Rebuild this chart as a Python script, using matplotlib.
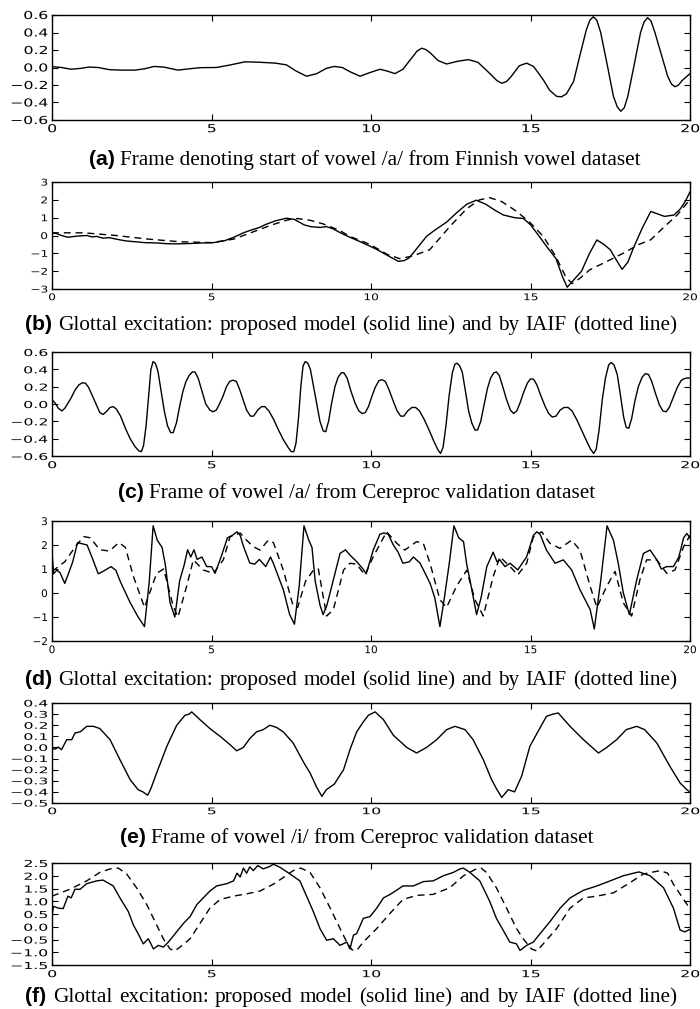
import numpy as np
import matplotlib
matplotlib.use('Agg')
import matplotlib.pyplot as plt
from matplotlib import patheffects
from matplotlib.transforms import Affine2D

# --- (a) frame, Finnish vowel /a/ ---
a_t = [0, 0.3, 0.6, 0.9, 1.15, 1.45, 1.8, 2.2, 2.6, 2.9, 3.2, 3.5, 3.95, 4.3, 4.65, 5.15,
       5.6, 6.05, 6.5, 7.0, 7.35, 7.65, 7.98, 8.3, 8.6, 8.85, 9.1, 9.35, 9.66, 9.95, 10.28,
       10.5, 10.75, 11.0, 11.3, 11.45, 11.59, 11.72, 11.85, 12.1, 12.37, 12.7, 13.05, 13.35,
       13.7, 13.95, 14.1, 14.25, 14.4, 14.65, 14.88, 15.1, 15.4, 15.6, 15.82, 15.97, 16.13,
       16.35, 16.55, 16.75, 16.86, 16.97, 17.08, 17.2, 17.4, 17.6, 17.72, 17.83, 17.94,
       18.05, 18.25, 18.45, 18.56, 18.67, 18.78, 18.9, 19.1, 19.3, 19.42, 19.53, 19.64,
       19.75, 20.0]
a_y = [0.01, 0.0, -0.02, -0.01, 0.005, 0.0, -0.025, -0.03, -0.03, -0.015, 0.012, 0.005, -0.03,
       -0.015, -0.002, 0.0, 0.03, 0.065, 0.06, 0.05, 0.03, -0.04, -0.1, -0.07, -0.01, 0.012,
       0.0, -0.05, -0.1, -0.06, -0.02, -0.04, -0.07, -0.02, 0.12, 0.19, 0.22, 0.205, 0.17,
       0.08, 0.04, 0.07, 0.09, 0.06, -0.06, -0.15, -0.18, -0.16, -0.1, 0.02, 0.05, 0.01,
       -0.14, -0.26, -0.33, -0.335, -0.3, -0.16, 0.14, 0.43, 0.54, 0.58, 0.54, 0.4, 0.04,
       -0.33, -0.45, -0.5, -0.46, -0.33, 0.03, 0.4, 0.52, 0.57, 0.53, 0.4, 0.15, -0.1, -0.19,
       -0.22, -0.2, -0.15, -0.07]

# --- (b) glottal excitation, proposed model and IAIF ---
b_model_t = [0.0, 0.15, 0.3, 0.5, 0.7, 0.9, 1.1, 1.25, 1.4, 1.6, 1.8, 2.0, 2.3, 2.6, 2.9, 3.3,
             3.6, 3.9, 4.3, 4.7, 5.06, 5.4, 5.7, 6.0, 6.2, 6.5, 6.7, 7.0, 7.35, 7.6, 7.9, 8.1,
             8.4, 8.6, 8.8, 9.1, 9.34, 9.6, 9.97, 10.2, 10.4, 10.6, 10.86, 11.05, 11.2, 11.45,
             11.74, 12.0, 12.37, 12.7, 13.0, 13.3, 13.6, 13.9, 14.15, 14.5, 14.78, 15.0, 15.2,
             15.5, 15.8, 16.0, 16.15, 16.35, 16.6, 16.85, 17.08, 17.3, 17.5, 17.7, 17.87, 18.05,
             18.25, 18.5, 18.77, 19.0, 19.2, 19.5, 19.7, 19.85, 20.0]
b_model_y = [0.15, 0.1, 0.0, -0.1, -0.05, -0.02, 0.0, -0.08, -0.05, -0.15, -0.12, -0.2, -0.3,
             -0.35, -0.4, -0.42, -0.46, -0.47, -0.45, -0.42, -0.4, -0.3, -0.1, 0.15, 0.28, 0.45,
             0.62, 0.82, 0.97, 0.9, 0.6, 0.5, 0.45, 0.5, 0.38, 0.1, -0.1, -0.3, -0.6, -0.8, -1.0,
             -1.2, -1.45, -1.4, -1.25, -0.7, -0.05, 0.3, 0.75, 1.3, 1.75, 1.98, 1.75, 1.4, 1.15,
             1.0, 0.95, 0.6, 0.13, -0.6, -1.3, -2.3, -2.9, -2.5, -2.0, -1.0, -0.25, -0.5, -0.8,
             -1.4, -1.9, -1.5, -0.6, 0.4, 1.35, 1.2, 1.07, 1.15, 1.5, 1.9, 2.45]
b_iaif_t = [0.0, 1.0, 2.0, 3.0, 4.0, 5.0, 5.7, 6.3, 6.9, 7.4, 7.7, 8.1, 8.5, 9.0, 9.34, 9.97,
            10.5, 10.9, 11.3, 11.84, 12.47, 13.0, 13.4, 13.72, 14.1, 14.57, 15.0, 15.4, 15.8,
            16.1, 16.3, 16.55, 16.86, 17.4, 17.9, 18.4, 18.77, 19.2, 19.6, 19.9, 20.0]
b_iaif_y = [0.15, 0.15, 0.0, -0.2, -0.35, -0.4, -0.2, 0.2, 0.6, 0.88, 0.95, 0.85, 0.65, 0.3,
            -0.05, -0.5, -1.05, -1.3, -1.15, -0.8, 0.5, 1.5, 2.0, 2.12, 1.9, 1.35, 0.7, -0.05,
            -1.2, -2.3, -2.7, -2.4, -1.92, -1.45, -1.0, -0.5, -0.24, 0.5, 1.15, 1.8, 2.0]

# --- (c) frame of vowel /a/, Cereproc ---
c_t = [0.0, 0.1, 0.2, 0.31, 0.4, 0.5, 0.6, 0.72, 0.84, 0.95, 1.05, 1.15, 1.26, 1.38, 1.5, 1.6,
       1.7, 1.82, 1.92, 2.02, 2.15, 2.3, 2.45, 2.6, 2.72, 2.8, 2.87, 2.95, 3.03, 3.1, 3.17,
       3.24, 3.32, 3.42, 3.52, 3.62, 3.72, 3.8, 3.9, 4.0, 4.1, 4.2, 4.3, 4.4, 4.48, 4.58, 4.7,
       4.82, 4.95, 5.05, 5.15, 5.25, 5.36, 5.47, 5.57, 5.67, 5.78, 5.88, 5.99, 6.1, 6.22, 6.32,
       6.45, 6.57, 6.67, 6.8, 6.95, 7.1, 7.25, 7.4, 7.5, 7.58, 7.65, 7.73, 7.8, 7.87, 7.94,
       8.02, 8.1, 8.2, 8.3, 8.4, 8.5, 8.58, 8.67, 8.77, 8.87, 8.97, 9.07, 9.15, 9.25, 9.37,
       9.5, 9.62, 9.72, 9.82, 9.92, 10.02, 10.13, 10.25, 10.35, 10.45, 10.57, 10.7, 10.82,
       10.93, 11.03, 11.15, 11.28, 11.4, 11.52, 11.67, 11.82, 11.97, 12.1, 12.18, 12.26,
       12.35, 12.45, 12.55, 12.63, 12.7, 12.78, 12.86, 12.96, 13.06, 13.16, 13.26, 13.34,
       13.44, 13.55, 13.65, 13.75, 13.85, 13.93, 14.02, 14.13, 14.25, 14.37, 14.47, 14.57,
       14.67, 14.78, 14.9, 15.0, 15.1, 15.2, 15.32, 15.45, 15.57, 15.68, 15.8, 15.93, 16.05,
       16.18, 16.3, 16.45, 16.6, 16.75, 16.88, 16.98, 17.06, 17.15, 17.25, 17.35, 17.45,
       17.53, 17.62, 17.72, 17.82, 17.92, 18.0, 18.08, 18.17, 18.27, 18.38, 18.5, 18.6, 18.7,
       18.8, 18.92, 19.04, 19.15, 19.25, 19.35, 19.47, 19.6, 19.72, 19.8, 19.9, 20.0]
c_y = [0.05, 0.01, -0.05, -0.08, -0.05, 0.01, 0.07, 0.16, 0.22, 0.245, 0.24, 0.19, 0.1, 0.0,
       -0.1, -0.12, -0.09, -0.04, -0.03, -0.06, -0.14, -0.28, -0.4, -0.49, -0.54, -0.55, -0.48,
       -0.25, 0.1, 0.4, 0.49, 0.47, 0.38, 0.15, -0.08, -0.25, -0.33, -0.33, -0.22, -0.03, 0.14,
       0.26, 0.33, 0.37, 0.37, 0.3, 0.15, 0.0, -0.07, -0.09, -0.07, 0.0, 0.09, 0.2, 0.26,
       0.275, 0.26, 0.17, 0.05, -0.07, -0.14, -0.14, -0.07, -0.03, -0.03, -0.08, -0.18, -0.3,
       -0.41, -0.5, -0.55, -0.55, -0.45, -0.15, 0.2, 0.44, 0.49, 0.47, 0.4, 0.2, 0.0, -0.2,
       -0.31, -0.32, -0.2, 0.02, 0.2, 0.31, 0.36, 0.36, 0.3, 0.15, 0.01, -0.08, -0.11, -0.1,
       -0.03, 0.08, 0.19, 0.27, 0.28, 0.26, 0.16, 0.03, -0.08, -0.14, -0.14, -0.08, -0.04,
       -0.04, -0.08, -0.18, -0.3, -0.43, -0.53, -0.57, -0.5, -0.25, 0.1, 0.36, 0.46, 0.47,
       0.44, 0.37, 0.15, -0.08, -0.22, -0.3, -0.3, -0.2, 0.0, 0.18, 0.3, 0.36, 0.37, 0.33,
       0.2, 0.05, -0.07, -0.11, -0.08, 0.01, 0.13, 0.24, 0.29, 0.285, 0.22, 0.1, -0.02, -0.11,
       -0.15, -0.14, -0.07, -0.04, -0.04, -0.08, -0.18, -0.3, -0.42, -0.52, -0.57, -0.52,
       -0.3, 0.05, 0.3, 0.45, 0.48, 0.45, 0.34, 0.1, -0.15, -0.27, -0.28, -0.17, 0.03, 0.2,
       0.31, 0.35, 0.34, 0.26, 0.12, -0.01, -0.08, -0.09, -0.04, 0.07, 0.19, 0.27, 0.29, 0.3,
       0.3]

# --- (d) glottal excitation for (c) ---
d_model_t = [0.0, 0.05, 0.15, 0.25, 0.4, 0.5, 0.65, 0.8, 0.95, 1.1, 1.25, 1.45, 1.6, 1.85,
             2.0, 2.15, 2.45, 2.7, 2.9, 3.05, 3.17, 3.3, 3.45, 3.55, 3.7, 3.85, 4.0, 4.15, 4.25,
             4.35, 4.45, 4.55, 4.7, 4.85, 5.0, 5.11, 5.3, 5.5, 5.65, 5.8, 5.9, 6.0, 6.2, 6.35,
             6.5, 6.7, 6.85, 6.95, 7.25, 7.45, 7.6, 7.75, 7.9, 8.05, 8.15, 8.25, 8.4, 8.5, 8.62,
             8.82, 9.03, 9.2, 9.34, 9.55, 9.75, 9.85, 10.07, 10.28, 10.4, 10.54, 10.7, 10.85,
             11.0, 11.2, 11.33, 11.54, 11.85, 12.0, 12.16, 12.3, 12.45, 12.6, 12.75, 12.9, 13.0,
             13.1, 13.31, 13.45, 13.63, 13.83, 13.95, 14.04, 14.2, 14.36, 14.6, 14.88, 15.09,
             15.2, 15.3, 15.5, 15.77, 16.03, 16.29, 16.55, 16.87, 17.0, 17.2, 17.4, 17.6, 17.75,
             17.91, 18.1, 18.33, 18.54, 18.75, 18.96, 19.1, 19.27, 19.48, 19.65, 19.8, 19.9, 20.0]
d_model_y = [1.7, 0.8, 0.95, 0.85, 0.4, 0.75, 1.3, 2.1, 2.05, 2.0, 1.5, 0.8, 0.9, 1.1, 0.95,
             0.45, -0.4, -1.0, -1.4, 0.5, 2.8, 2.2, 1.9, 1.2, -0.4, -1.0, 0.5, 1.2, 1.8, 1.5,
             1.8, 1.4, 1.5, 1.1, 1.1, 0.82, 1.5, 2.3, 2.4, 2.55, 2.4, 1.95, 1.25, 1.2, 1.4, 1.1,
             1.5, 1.2, 0.14, -0.9, -1.3, 0.3, 2.8, 2.2, 1.9, 0.5, -0.5, -0.9, -0.5, 0.55, 1.65,
             1.8, 1.58, 1.31, 1.0, 0.8, 1.79, 2.45, 2.5, 2.45, 2.0, 1.7, 1.24, 1.3, 1.5, 1.24,
             0.41, -0.2, -1.4, -0.2, 1.2, 2.8, 2.3, 2.14, 1.2, 0.55, -0.9, -0.2, 1.1, 1.7, 1.3,
             1.38, 1.1, 1.24, 0.96, 1.51, 2.4, 2.55, 2.45, 1.79, 1.24, 1.38, 0.96, 0.14, -0.69,
             -1.5, 0.5, 2.8, 2.2, 1.24, 0.0, -0.9, 0.55, 1.65, 1.79, 1.38, 1.0, 1.1, 1.1, 1.5,
             2.3, 2.48, 2.3]
d_iaif_t = [0.0, 0.4, 0.77, 1.0, 1.2, 1.5, 1.8, 2.1, 2.3, 2.55, 2.9, 3.28, 3.5, 3.8, 3.95,
            4.22, 4.43, 4.74, 5.06, 5.37, 5.58, 5.9, 6.1, 6.31, 6.52, 6.78, 6.94, 7.25, 7.56,
            7.7, 7.95, 8.2, 8.35, 8.61, 8.82, 9.14, 9.34, 9.55, 9.81, 10.07, 10.49, 10.81, 11.06,
            11.43, 11.64, 11.85, 12.16, 12.37, 12.68, 13.0, 13.26, 13.52, 13.83, 14.04, 14.36,
            14.6, 14.88, 15.09, 15.35, 15.61, 15.92, 16.29, 16.55, 16.87, 17.08, 17.39, 17.65,
            17.91, 18.17, 18.43, 18.64, 18.96, 19.27, 19.53, 19.8, 20.0]
d_iaif_y = [0.9, 1.3, 2.0, 2.35, 2.3, 1.8, 1.75, 2.1, 1.9, 0.7, -0.6, 0.82, 1.0, -0.55, -1.0,
            0.28, 1.38, 0.96, 0.82, 1.38, 2.34, 2.5, 2.2, 1.93, 1.79, 2.2, 2.1, 0.96, -0.55,
            -0.6, 0.5, 0.96, 1.0, -0.96, -0.69, 0.96, 1.24, 1.2, 0.75, 1.51, 2.55, 2.07, 1.79,
            2.14, 2.07, 1.24, -0.28, -0.6, 0.28, 0.95, -0.28, -0.96, 0.68, 1.51, 1.1, 0.75, 1.24,
            2.34, 2.55, 2.07, 1.86, 2.2, 1.79, 0.28, -0.6, 0.28, 0.9, -0.41, -0.96, 0.55, 1.38,
            1.38, 0.82, 0.96, 1.93, 2.4]

# --- (e) frame of vowel /i/, Cereproc ---
e_t = [0.0, 0.1, 0.2, 0.3, 0.46, 0.62, 0.72, 0.88, 1.09, 1.3, 1.5, 1.82, 2.13, 2.45, 2.7, 2.85,
       3.0, 3.1, 3.28, 3.6, 3.91, 4.17, 4.3, 4.38, 4.64, 4.95, 5.27, 5.58, 5.79, 6.0, 6.2, 6.41,
       6.62, 6.83, 7.04, 7.25, 7.56, 7.88, 8.09, 8.3, 8.46, 8.6, 8.85, 9.14, 9.34, 9.55, 9.76,
       9.92, 10.13, 10.39, 10.7, 11.12, 11.43, 11.74, 12.06, 12.37, 12.63, 12.95, 13.2, 13.52,
       13.78, 13.95, 14.1, 14.3, 14.5, 14.72, 14.98, 15.19, 15.5, 15.7, 15.87, 16.24, 16.66,
       17.13, 17.39, 17.7, 18.0, 18.33, 18.58, 18.96, 19.37, 19.69, 19.9, 20.0]
e_y = [-0.01, -0.015, 0.003, -0.02, 0.07, 0.07, 0.13, 0.14, 0.19, 0.19, 0.17, 0.07, -0.11,
       -0.29, -0.38, -0.4, -0.43, -0.37, -0.23, 0.01, 0.2, 0.29, 0.3, 0.32, 0.25, 0.17, 0.1,
       0.025, -0.03, 0.0, 0.08, 0.14, 0.16, 0.2, 0.18, 0.14, 0.04, -0.13, -0.23, -0.36, -0.44,
       -0.38, -0.33, -0.2, -0.02, 0.14, 0.23, 0.29, 0.32, 0.25, 0.11, 0.0, -0.05, 0.0, 0.07,
       0.16, 0.19, 0.16, 0.07, -0.11, -0.29, -0.38, -0.45, -0.38, -0.4, -0.26, 0.01, 0.12,
       0.28, 0.3, 0.31, 0.19, 0.07, -0.05, 0.0, 0.07, 0.16, 0.19, 0.16, 0.04, -0.17, -0.32,
       -0.38, -0.4]

# --- (f) glottal excitation for (e) ---
f_model_t = [0.0, 0.05, 0.2, 0.35, 0.5, 0.6, 0.72, 0.88, 1.09, 1.4, 1.6, 1.92, 2.13, 2.39,
             2.55, 2.7, 2.86, 3.02, 3.18, 3.33, 3.49, 3.65, 3.86, 4.12, 4.33, 4.54, 4.74, 4.95,
             5.16, 5.48, 5.69, 5.8, 5.9, 6.0, 6.1, 6.2, 6.31, 6.45, 6.62, 6.8, 6.94, 7.15, 7.46,
             7.77, 7.98, 8.19, 8.4, 8.61, 8.82, 9.03, 9.24, 9.34, 9.45, 9.55, 9.76, 9.97, 10.18,
             10.39, 10.6, 10.8, 11.0, 11.33, 11.64, 11.95, 12.27, 12.58, 12.79, 12.9, 13.1,
             13.41, 13.72, 13.93, 14.14, 14.35, 14.56, 14.67, 14.88, 15.09, 15.3, 15.61, 15.93,
             16.24, 16.66, 17.08, 17.5, 17.91, 18.33, 18.4, 18.75, 19.17, 19.48, 19.69, 19.84, 20.0]
f_model_y = [0.47, 0.8, 0.73, 0.71, 1.2, 1.13, 1.47, 1.47, 1.69, 1.8, 1.83, 1.6, 1.13, 0.6,
             0.07, -0.27, -0.67, -0.47, -0.87, -0.73, -0.8, -0.6, -0.27, 0.13, 0.4, 0.87, 1.13,
             1.4, 1.6, 1.69, 1.8, 2.1, 1.95, 2.3, 2.1, 2.35, 2.2, 2.4, 2.27, 2.35, 2.45, 2.33,
             2.07, 1.8, 1.2, 0.6, -0.07, -0.53, -0.47, -0.73, -0.6, -0.87, -0.33, -0.27, 0.33,
             0.4, 0.73, 1.13, 1.27, 1.43, 1.6, 1.6, 1.77, 1.8, 2.0, 2.13, 2.27, 2.3, 2.13, 1.8,
             1.0, 0.33, -0.13, -0.6, -0.67, -0.93, -0.73, -0.6, -0.27, 0.2, 0.73, 1.13, 1.43,
             1.6, 1.8, 2.0, 2.13, 2.15, 2.0, 1.53, 0.73, -0.13, -0.2, -0.1]
f_iaif_t = [0.0, 0.56, 1.09, 1.5, 1.82, 2.08, 2.34, 2.65, 2.97, 3.28, 3.49, 3.7, 3.85, 4.01,
            4.33, 4.64, 4.95, 5.27, 5.69, 6.1, 6.52, 6.94, 7.25, 7.56, 7.8, 8.09, 8.4, 8.72,
            9.03, 9.24, 9.4, 9.55, 9.76, 10.18, 10.6, 11.0, 11.43, 11.95, 12.47, 12.9, 13.3,
            13.45, 13.62, 13.93, 14.25, 14.56, 14.77, 15.03, 15.2, 15.4, 15.82, 16.24, 16.66,
            17.08, 17.6, 18.12, 18.54, 19.06, 19.3, 19.48, 19.84, 20.0]
f_iaif_y = [1.2, 1.47, 1.8, 2.13, 2.27, 2.3, 2.07, 1.53, 0.87, 0.07, -0.47, -0.87, -0.95, -0.8,
            -0.47, 0.13, 0.73, 1.07, 1.2, 1.29, 1.4, 1.67, 1.93, 2.2, 2.3, 2.13, 1.53, 0.73,
            -0.07, -0.6, -0.9, -0.93, -0.6, -0.07, 0.53, 1.07, 1.23, 1.27, 1.53, 2.0, 2.27, 2.3,
            2.13, 1.53, 0.73, -0.07, -0.47, -0.87, -0.95, -0.67, -0.07, 0.73, 1.13, 1.2, 1.33,
            1.73, 2.07, 2.2, 2.1, 1.67, 1.0, 0.7]

glottal = "Glottal excitation: proposed model (solid line) and by IAIF (dotted line)"
captions = ["Frame denoting start of vowel /a/ from Finnish vowel dataset", glottal,
            "Frame of vowel /a/ from Cereproc validation dataset", glottal,
            "Frame of vowel /i/ from Cereproc validation dataset", glottal]
letters = ["(a)", "(b)", "(c)", "(d)", "(e)", "(f)"]


class Stretch(patheffects.AbstractPathEffect):
    """widen glyphs horizontally (the sub-figures were scaled non-uniformly)"""
    def __init__(self, sx, ha):
        super().__init__()
        self.sx = sx
        self.ha = ha

    def draw_path(self, renderer, gc, tpath, affine, rgbFace=None):
        v = tpath.vertices
        ref = 0.0
        if len(v):
            x0, x1 = v[:, 0].min(), v[:, 0].max()
            ref = {'left': x0, 'center': (x0 + x1) / 2, 'right': x1}[self.ha]
        tr = Affine2D().translate(-ref, 0).scale(self.sx, 1).translate(ref, 0) + affine
        renderer.draw_path(gc, tpath, tr, rgbFace)


W, H = 700, 1009
fig = plt.figure(figsize=(W / 100, H / 100), dpi=100)

# top, bottom (px), ylim, ystep, tick font px, horizontal stretch,
# caption baseline px, caption span (centre x) or (left, right) when justified
panels = [
    (15, 120, (-0.6, 0.6), 0.2, 11.0, 1.43, 165, (365,)),
    (182, 289, (-3, 3), 1, 9.2, 1.32, 330, (25, 678)),
    (352, 456, (-0.6, 0.6), 0.2, 9.6, 1.64, 498, (357,)),
    (521, 641, (-2, 3), 1, 10.5, 1.0, 685, (25, 678)),
    (703, 803, (-0.5, 0.4), 0.1, 9.0, 1.75, 843, (357,)),
    (863, 965, (-1.5, 2.5), 0.5, 9.6, 1.64, 1002, (25, 678)),
]
series = [
    [(a_t, a_y, '-')],
    [(b_iaif_t, b_iaif_y, '--'), (b_model_t, b_model_y, '-')],
    [(c_t, c_y, '-')],
    [(d_iaif_t, d_iaif_y, '--'), (d_model_t, d_model_y, '-')],
    [(e_t, e_y, '-')],
    [(f_iaif_t, f_iaif_y, '--'), (f_model_t, f_model_y, '-')],
]

renderer = fig.canvas.get_renderer()
cap_size = 15.3
for i, (top, bot, ylim, ystep, fpx, sx, cap_y, span) in enumerate(panels):
    ax = fig.add_axes([52 / W, 1 - bot / H, 638 / W, (bot - top) / H])
    for t, y, ls in series[i]:
        if ls == '--':
            ax.plot(t, y, color='black', lw=1.0, dashes=(5, 3.5))
        else:
            ax.plot(t, y, color='black', lw=1.0)
    ax.set_xlim(0, 20)
    ax.set_ylim(*ylim)
    ax.set_xticks([0, 5, 10, 15, 20])
    ax.set_yticks(np.round(np.arange(ylim[0], ylim[1] + ystep / 2, ystep), 2))
    ax.tick_params(direction='in', top=True, right=True, length=4, width=0.8,
                   labelsize=fpx * 0.72, pad=3)
    for sp in ax.spines.values():
        sp.set_linewidth(1.0)
    for lab in ax.get_yticklabels():
        lab.set_path_effects([Stretch(sx, 'right')])
    for lab in ax.get_xticklabels():
        lab.set_path_effects([Stretch(sx, 'center')])

    # caption: bold sans letter + serif words
    yy = 1 - cap_y / H
    parts = [fig.text(0, yy, letters[i], family='Liberation Sans', fontweight='bold',
                      size=cap_size)]
    justify = len(span) == 2
    if justify:
        for w in captions[i].split():
            parts.append(fig.text(0, yy, w, family='Liberation Serif', size=cap_size))
    else:
        parts.append(fig.text(0, yy, captions[i], family='Liberation Serif', size=cap_size))
    widths = [p.get_window_extent(renderer).width for p in parts]
    if justify:
        gap = max(4, (span[1] - span[0] - sum(widths)) / (len(parts) - 1))
        x = span[0]
    else:
        gap = 5
        x = span[0] - (sum(widths) + gap * (len(parts) - 1)) / 2
    for p, w in zip(parts, widths):
        p.set_x(x / W)
        x += w + gap

fig.savefig('out.png', dpi=100)
